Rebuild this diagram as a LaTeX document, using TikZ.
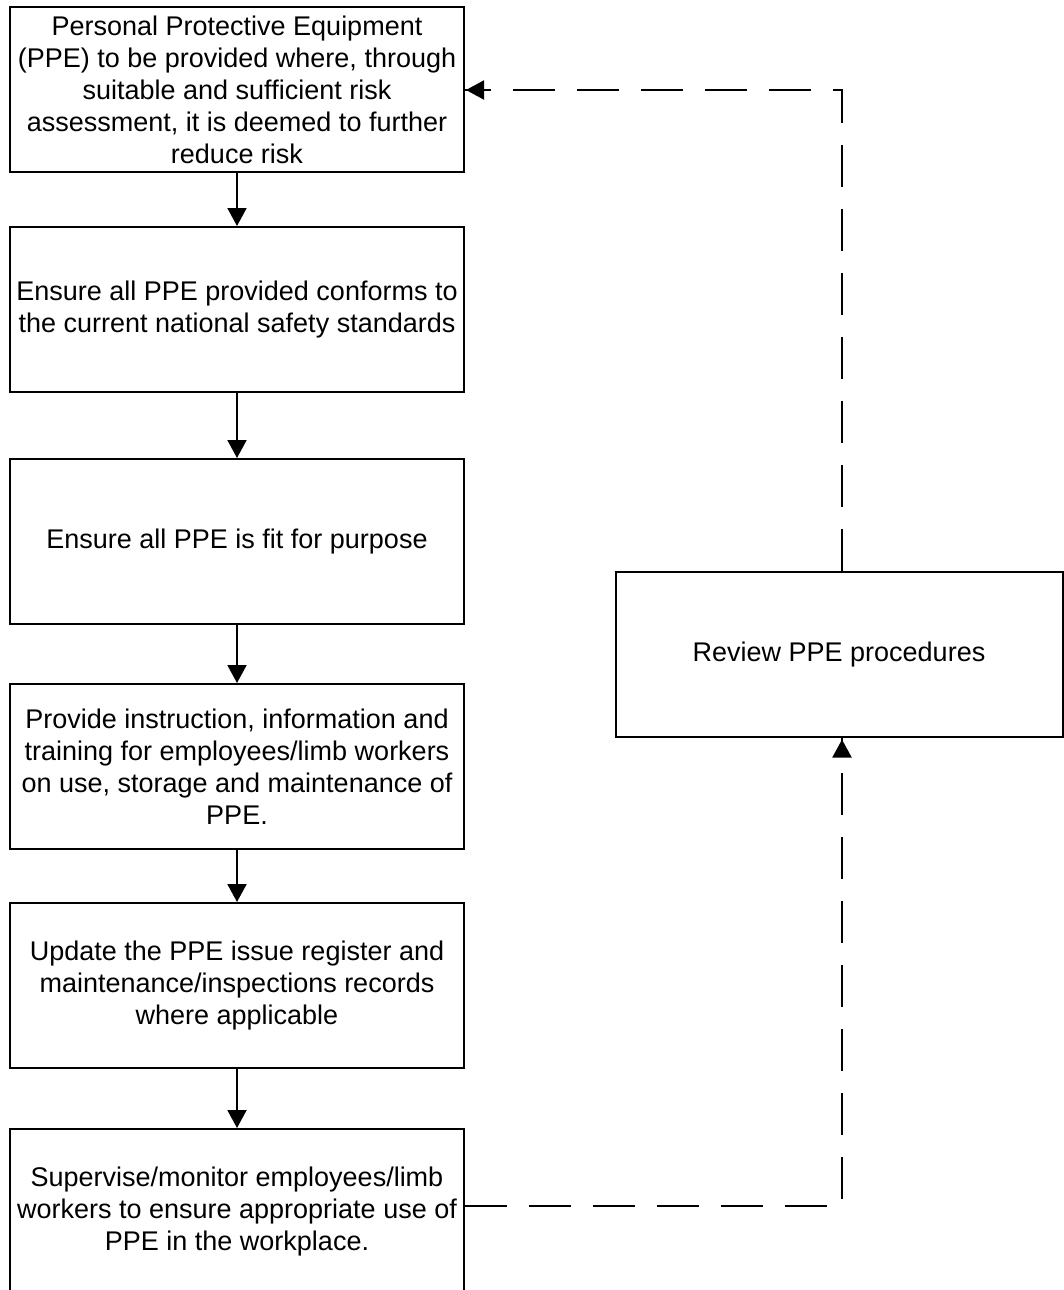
\documentclass[tikz,border=0pt]{standalone}
\usepackage{fontspec}
\setmainfont{Liberation Sans}
\usetikzlibrary{arrows.meta}
\begin{document}
\begin{tikzpicture}[x=1pt,y=-1pt,
  box/.style={draw, line width=2pt, rectangle, minimum width=454pt, minimum height=165pt,
    align=center, inner sep=0pt, font=\fontsize{27}{32}\selectfont},
  tip/.style={-{Triangle[width=19pt,length=18pt]}},
  flow/.style={line width=2pt, tip},
  dashline/.style={line width=2.4pt, dash pattern=on 42pt off 22pt}]
\useasboundingbox (0,0) rectangle (1063,1290);
\node[box] (b1) at (237,89.5) {Personal Protective Equipment\\(PPE) to be provided where, through\\suitable and sufficient risk\\assessment, it is deemed to further\\reduce risk};
\node[box] (b2) at (237,309.5) {Ensure all PPE provided conforms to\\the current national safety standards};
\node[box] (b3) at (237,541.5) {Ensure all PPE is fit for purpose};
\node[box] (b4) at (237,766.5) {Provide instruction, information and\\training for employees/limb workers\\on use, storage and maintenance of\\PPE.};
\node[box] (b5) at (237,985.5) {Update the PPE issue register and\\maintenance/inspections records\\where applicable};
\node[box] (b6) at (237,1211.5) {Supervise/monitor employees/limb\\workers to ensure appropriate use of\\PPE in the workplace.};
\node[box, minimum width=447pt] (rev) at (839,654.5) {Review PPE procedures};
\coordinate (c1) at (842,1206);
\coordinate (c2) at (842,90);
\draw[flow] (b1) -- (b2);
\draw[flow] (b2) -- (b3);
\draw[flow] (b3) -- (b4);
\draw[flow] (b4) -- (b5);
\draw[flow] (b5) -- (b6);
\draw[dashline] (b6.east |- c1) -- (c1) -- (c1 |- rev.south);
\draw[line width=2pt, tip] ([yshift=-16pt]c1 |- rev.south) -- ([yshift=-1.5pt]c1 |- rev.south);
\draw[dashline] (c1 |- rev.north) -- (c2) -- (c2 -| b1.east);
\draw[line width=2pt, tip] ([xshift=19pt]c2 -| b1.east) -- ([xshift=1pt]c2 -| b1.east);
\end{tikzpicture}
\end{document}
